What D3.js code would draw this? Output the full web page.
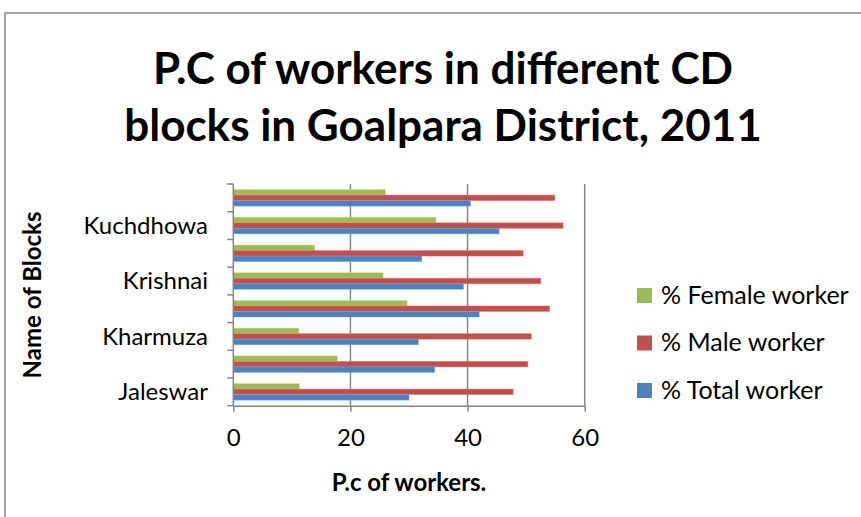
<!DOCTYPE html>
<html lang="en">
<head>
    <meta charset="UTF-8">
    <title>P.C of workers in Goalpara</title>
    <script src="https://d3js.org/d3.v7.min.js"></script>
    <style>
        body { margin: 0; background: #fff; }
        text { font-family: "Lato", "Open Sans", sans-serif; fill: #000; }
    </style>
</head>
<body>
    <svg id="chart" width="861" height="517"></svg>

    <script>
        // Blocks, bottom to top (only every second name is printed, as in the original)
        const blocks = ["Jaleswar", "Balijana", "Kharmuza", "Lakhipur", "Krishnai", "Matia", "Kuchdhowa", "Rongjuli"];
        const seriesNames = ["% Female worker", "% Male worker", "% Total worker"];
        const femaleWorker = [11.3, 17.8, 11.2, 29.7, 25.6, 13.9, 34.6, 26.0];
        const maleWorker = [47.8, 50.3, 50.9, 54.0, 52.5, 49.5, 56.3, 54.9];
        const totalWorker = [30.0, 34.4, 31.6, 42.0, 39.3, 32.2, 45.4, 40.5];
        const xTicks = [0, 20, 40, 60];
        const colors = ["#9BBB59", "#C0504D", "#4F81BD"];

        const svg = d3.select("#chart");
        const gridColor = "#868686";

        // outer chart border (runs off the right and bottom)
        svg.append("rect")
            .attr("x", 5).attr("y", 13)
            .attr("width", 900).attr("height", 600)
            .attr("fill", "none")
            .attr("stroke", gridColor)
            .attr("stroke-width", 1.5);

        // plot area
        const plotLeft = 233.3, plotRight = 584.7, plotTop = 184, plotBottom = 405.7;

        const x = d3.scaleLinear().domain([0, 60]).range([plotLeft, plotRight]);
        const y = d3.scaleBand().domain(blocks).range([plotBottom, plotTop])
            .paddingInner(0.4).paddingOuter(0.2);
        const ySub = d3.scaleBand().domain(seriesNames).range([0, y.bandwidth()]);

        const rows = blocks.map((b, i) => ({
            block: b,
            values: [femaleWorker[i], maleWorker[i], totalWorker[i]]
        }));

        // vertical gridlines
        svg.append("g")
            .selectAll("line")
            .data(xTicks.slice(1))
            .enter()
            .append("line")
            .attr("x1", d => x(d)).attr("x2", d => x(d))
            .attr("y1", plotTop).attr("y2", plotBottom)
            .attr("stroke", gridColor)
            .attr("stroke-width", 1.5);

        // bars
        const groups = svg.append("g")
            .selectAll("g")
            .data(rows)
            .enter()
            .append("g")
            .attr("transform", d => "translate(0," + y(d.block) + ")");

        groups.selectAll("rect")
            .data(d => d.values.map((v, j) => ({ v: v, j: j })))
            .enter()
            .append("rect")
            .attr("x", x(0))
            .attr("y", d => ySub(seriesNames[d.j]))
            .attr("width", d => x(d.v) - x(0))
            .attr("height", ySub.bandwidth())
            .attr("fill", d => colors[d.j])
            .attr("stroke", d => d3.color(colors[d.j]).brighter(0.8))
            .attr("stroke-opacity", 0.5)
            .attr("stroke-width", 0.8);

        // x axis
        const xAxis = svg.append("g")
            .attr("transform", "translate(0," + plotBottom + ")")
            .call(d3.axisBottom(x).tickValues(xTicks).tickSize(6).tickSizeOuter(0).tickPadding(17));
        xAxis.select(".domain").attr("stroke", gridColor).attr("stroke-width", 1.5);
        xAxis.selectAll(".tick line").attr("stroke", gridColor).attr("stroke-width", 1.5);
        xAxis.selectAll("text").attr("font-size", 24).attr("font-family", "Lato");

        // y axis: ticks at the boundaries between blocks
        const step = y.step();
        const boundaries = d3.range(blocks.length + 1).map(i => plotBottom - i * step);
        svg.append("line")
            .attr("x1", plotLeft).attr("x2", plotLeft)
            .attr("y1", plotTop).attr("y2", plotBottom)
            .attr("stroke", gridColor).attr("stroke-width", 1.5);
        svg.append("g")
            .selectAll("line")
            .data(boundaries)
            .enter()
            .append("line")
            .attr("x1", plotLeft - 6).attr("x2", plotLeft)
            .attr("y1", d => d).attr("y2", d => d)
            .attr("stroke", gridColor).attr("stroke-width", 1.5);

        svg.append("g")
            .selectAll("text")
            .data(blocks.filter((b, i) => i % 2 === 0))
            .enter()
            .append("text")
            .attr("x", 208)
            .attr("y", d => y(d) + y.bandwidth() / 2)
            .attr("dy", "0.35em")
            .attr("text-anchor", "end")
            .attr("font-size", 24)
            .text(d => d);

        // title
        svg.append("g")
            .selectAll("text")
            .data(["P.C of workers in different CD", "blocks in Goalpara District, 2011"])
            .enter()
            .append("text")
            .attr("x", 443)
            .attr("y", (d, i) => 84 + i * 57)
            .attr("text-anchor", "middle")
            .attr("font-size", 44)
            .attr("font-weight", "bold")
            .text(d => d);

        // axis titles
        svg.append("text")
            .attr("transform", "translate(41,295) rotate(-90)")
            .attr("text-anchor", "middle")
            .attr("font-size", 24)
            .attr("font-weight", "bold")
            .text("Name of Blocks");

        svg.append("text")
            .attr("x", 409)
            .attr("y", 491)
            .attr("text-anchor", "middle")
            .attr("font-size", 24)
            .attr("font-weight", "bold")
            .text("P.c of workers.");

        // legend
        const legend = svg.append("g")
            .selectAll("g")
            .data(seriesNames)
            .enter()
            .append("g")
            .attr("transform", (d, i) => "translate(637," + (295 + i * 47.5) + ")");

        legend.append("rect")
            .attr("x", 0).attr("y", -7)
            .attr("width", 15).attr("height", 15)
            .attr("fill", (d, i) => colors[i]);

        legend.append("text")
            .attr("x", 24)
            .attr("dy", "0.35em")
            .attr("font-size", 25)
            .text(d => d);
    </script>
</body>
</html>
